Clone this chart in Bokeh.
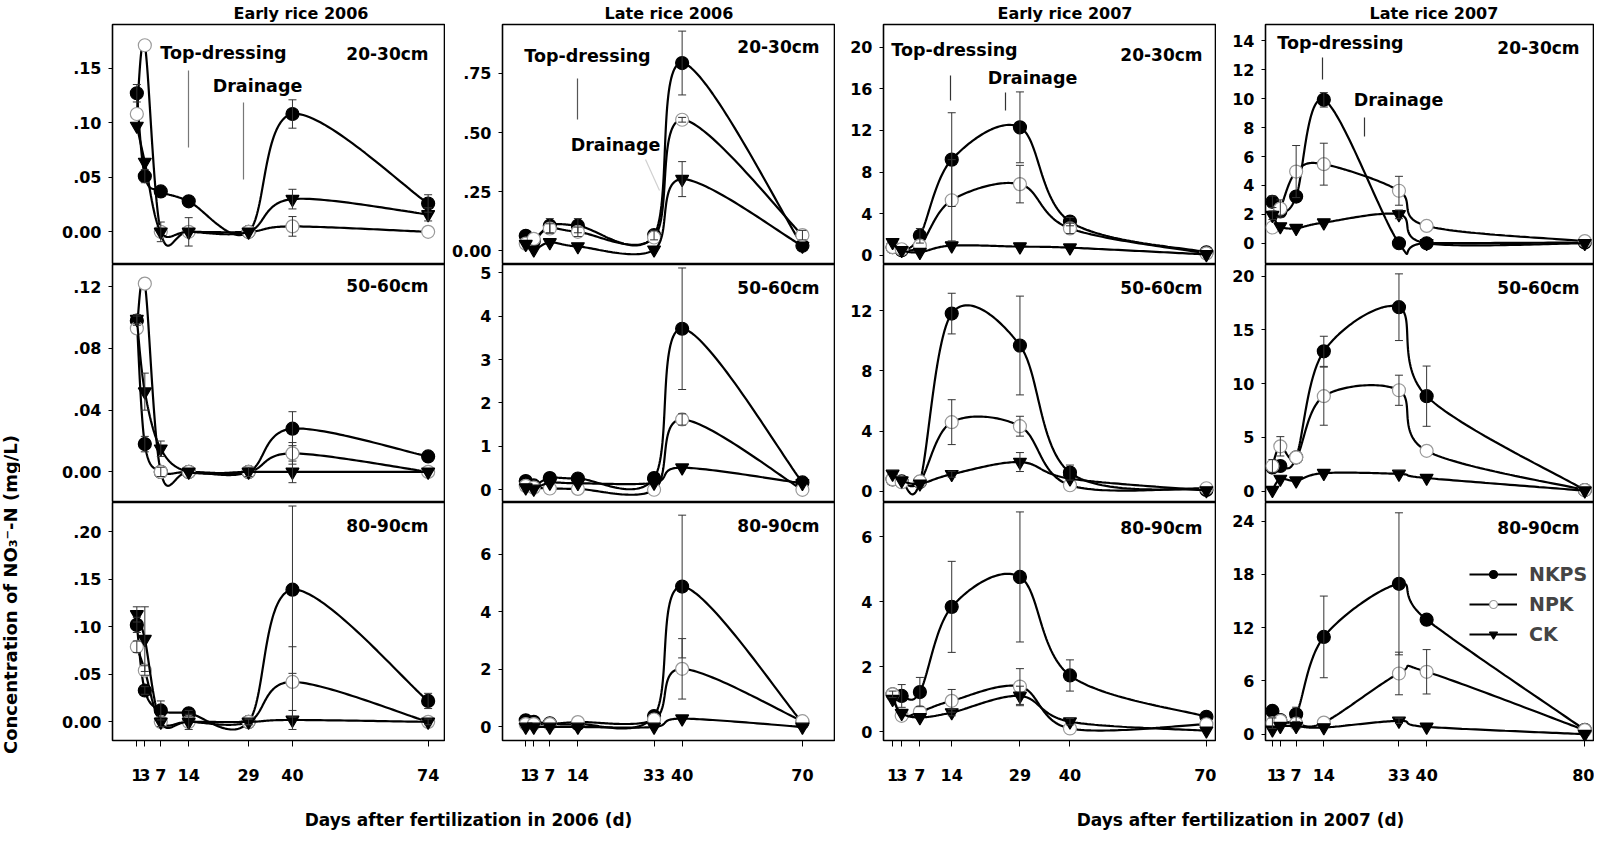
import numpy as np
from bokeh.plotting import figure
from bokeh.layouts import row, column
from bokeh.models import (Range1d, FixedTicker, Whisker, TeeHead, ColumnDataSource,
                          Label, Legend, LegendItem, AllLabels, CustomJSTickFormatter)
from bokeh.embed import file_html
from bokeh.resources import INLINE

# ---------------- data ----------------
titles = ["Early rice 2006", "Late rice 2006", "Early rice 2007", "Late rice 2007"]
depths = ["20-30cm", "50-60cm", "80-90cm"]
treatments = ["NKPS", "NPK", "CK"]

days_er06 = [1, 3, 7, 14, 29, 40, 74]
days_lr06 = [1, 3, 7, 14, 33, 40, 70]
days_er07 = [1, 3, 7, 14, 29, 40, 70]
days_lr07 = [1, 3, 7, 14, 33, 40, 80]

# Early rice 2006
er06_d20_nkps = [0.127, 0.051, 0.037, 0.028, 0.000, 0.108, 0.026]
er06_d20_nkps_se = [0.008, 0.006, 0, 0, 0, 0.013, 0.008]
er06_d20_npk = [0.108, 0.171, 0.000, 0.000, 0.000, 0.005, 0.000]
er06_d20_npk_se = [0, 0, 0, 0, 0, 0.009, 0]
er06_d20_ck = [0.097, 0.064, 0.000, 0.000, 0.000, 0.030, 0.016]
er06_d20_ck_se = [0, 0, 0.009, 0.013, 0, 0.009, 0.006]

er06_d50_nkps = [0.098, 0.018, 0.000, 0.000, 0.000, 0.028, 0.010]
er06_d50_nkps_se = [0.003, 0.005, 0, 0, 0, 0.011, 0]
er06_d50_npk = [0.093, 0.122, 0.000, 0.000, 0.000, 0.012, 0.000]
er06_d50_npk_se = [0, 0, 0.003, 0, 0, 0.007, 0]
er06_d50_ck = [0.099, 0.052, 0.015, 0.000, 0.000, 0.000, 0.000]
er06_d50_ck_se = [0.003, 0.012, 0.005, 0, 0.003, 0.007, 0]

er06_d80_nkps = [0.102, 0.033, 0.012, 0.009, 0.000, 0.139, 0.022]
er06_d80_nkps_se = [0.008, 0.004, 0.010, 0.003, 0, 0.088, 0.008]
er06_d80_npk = [0.079, 0.054, 0.000, 0.000, 0.000, 0.042, 0.000]
er06_d80_npk_se = [0.006, 0.005, 0, 0, 0.003, 0.037, 0]
er06_d80_ck = [0.113, 0.087, 0.000, 0.000, 0.000, 0.002, 0.000]
er06_d80_ck_se = [0.008, 0.034, 0.005, 0.008, 0.003, 0.010, 0.003]

# Late rice 2006
lr06_d20_nkps = [0.063, 0.040, 0.106, 0.106, 0.066, 0.794, 0.021]
lr06_d20_nkps_se = [0, 0, 0.03, 0.03, 0.02, 0.135, 0]
lr06_d20_npk = [0.030, 0.050, 0.094, 0.080, 0.056, 0.554, 0.066]
lr06_d20_npk_se = [0, 0, 0.02, 0.02, 0, 0.01, 0.02]
lr06_d20_ck = [0.028, 0.004, 0.035, 0.018, 0.004, 0.303, 0.020]
lr06_d20_ck_se = [0, 0, 0, 0, 0, 0.074, 0]

lr06_d50_nkps = [0.20, 0.10, 0.27, 0.26, 0.27, 3.71, 0.17]
lr06_d50_nkps_se = [0, 0, 0, 0, 0, 1.40, 0]
lr06_d50_npk = [0.09, 0.05, 0.03, 0.02, 0.00, 1.62, 0.00]
lr06_d50_npk_se = [0, 0, 0, 0, 0, 0.13, 0]
lr06_d50_ck = [0.05, 0.02, 0.16, 0.15, 0.16, 0.51, 0.15]
lr06_d50_ck_se = [0, 0, 0, 0, 0, 0, 0]

lr06_d80_nkps = [0.23, 0.18, 0.13, 0.10, 0.38, 4.88, 0.15]
lr06_d80_nkps_se = [0, 0, 0, 0, 0, 2.48, 0]
lr06_d80_npk = [0.10, 0.10, 0.10, 0.17, 0.26, 2.02, 0.20]
lr06_d80_npk_se = [0, 0, 0, 0, 0, 1.05, 0]
lr06_d80_ck = [0.00, 0.00, 0.00, 0.00, 0.00, 0.29, 0.00]
lr06_d80_ck_se = [0, 0, 0, 0, 0, 0, 0]

# Early rice 2007
er07_d20_nkps = [0.80, 0.50, 1.89, 9.20, 12.30, 3.25, 0.30]
er07_d20_nkps_se = [0, 0, 0.7, 4.5, 3.4, 0.4, 0]
er07_d20_npk = [0.80, 0.60, 0.95, 5.30, 6.85, 2.60, 0.20]
er07_d20_npk_se = [0, 0, 0, 3.9, 1.8, 0.5, 0]
er07_d20_ck = [1.27, 0.50, 0.32, 0.95, 0.85, 0.75, 0.10]
er07_d20_ck_se = [0, 0, 0, 0, 0, 0, 0]

er07_d50_nkps = [0.79, 0.65, 0.62, 11.80, 9.68, 1.24, 0.09]
er07_d50_nkps_se = [0, 0, 0, 1.35, 3.28, 0.5, 0]
er07_d50_npk = [0.80, 0.60, 0.65, 4.59, 4.32, 0.40, 0.20]
er07_d50_npk_se = [0, 0, 0, 1.49, 0.66, 0, 0]
er07_d50_ck = [1.15, 0.70, 0.50, 1.13, 1.94, 0.84, 0.05]
er07_d50_ck_se = [0, 0, 0, 0.2, 0.63, 0, 0]

er07_d80_nkps = [1.15, 1.10, 1.22, 3.84, 4.76, 1.73, 0.46]
er07_d80_nkps_se = [0.1, 0.35, 0.45, 1.40, 2.00, 0.48, 0]
er07_d80_npk = [1.15, 0.49, 0.61, 0.95, 1.39, 0.10, 0.23]
er07_d80_npk_se = [0, 0, 0, 0.35, 0.55, 0, 0]
er07_d80_ck = [1.00, 0.57, 0.44, 0.59, 1.10, 0.31, 0.03]
er07_d80_ck_se = [0, 0, 0, 0.1, 0.3, 0.1, 0]

# Late rice 2007
lr07_d20_nkps = [2.87, 2.20, 3.23, 9.92, 0.00, 0.00, 0.05]
lr07_d20_nkps_se = [0.4, 0, 0, 0.5, 0, 0, 0]
lr07_d20_npk = [1.09, 2.40, 4.96, 5.47, 3.63, 1.20, 0.15]
lr07_d20_npk_se = [0, 0.6, 1.8, 1.45, 1.0, 0, 0]
lr07_d20_ck = [1.94, 1.16, 1.04, 1.43, 2.00, 0.00, 0.00]
lr07_d20_ck_se = [0.3, 0, 0, 0, 0.3, 0, 0]

lr07_d50_nkps = [2.20, 2.34, 3.14, 13.0, 17.1, 8.83, 0.10]
lr07_d50_nkps_se = [0, 0, 0, 1.4, 3.1, 2.8, 0]
lr07_d50_npk = [2.34, 4.17, 3.14, 8.83, 9.38, 3.75, 0.10]
lr07_d50_npk_se = [0.6, 0.9, 0, 2.7, 1.4, 0, 0]
lr07_d50_ck = [0.10, 1.13, 0.98, 1.68, 1.60, 1.22, 0.05]
lr07_d50_ck_se = [0, 0, 0, 0, 0, 0, 0]

lr07_d80_nkps = [2.62, 1.60, 2.24, 10.96, 16.94, 12.90, 0.49]
lr07_d80_nkps_se = [0, 0, 0.8, 4.6, 8.0, 0, 0]
lr07_d80_npk = [1.23, 1.50, 1.20, 1.31, 6.84, 7.03, 0.45]
lr07_d80_npk_se = [0.6, 0, 0, 0, 2.4, 2.5, 0]
lr07_d80_ck = [0.50, 0.90, 0.90, 0.75, 1.50, 0.83, 0.00]
lr07_d80_ck_se = [0, 0, 0, 0, 0.3, 0, 0]

# axis ticks per panel [row][col]
yticks_r1 = [[0, 0.05, 0.10, 0.15], [0, 0.25, 0.50, 0.75], [0, 4, 8, 12, 16, 20], [0, 2, 4, 6, 8, 10, 12, 14]]
yticks_r2 = [[0, 0.04, 0.08, 0.12], [0, 1, 2, 3, 4, 5], [0, 4, 8, 12], [0, 5, 10, 15, 20]]
yticks_r3 = [[0, 0.05, 0.10, 0.15, 0.20], [0, 2, 4, 6], [0, 2, 4, 6], [0, 6, 12, 18, 24]]

# ---------------- layout / style ----------------
FONT = "DejaVu Sans"
COL_LEFT = [120, 510, 891, 1273]
COL_W = [332, 332, 332, 328]
ROW_TOP = [32, 272, 510]
ROW_H = [239, 237, 238]
BORDER_L = [92, 57, 48, 49]
TITLE_OFF = [121, 102, 114, 104]

XR = [(-5.1, 78.1), (-4.8, 78.0), (-1.0, 72.0), (-0.75, 82.2)]
YR = [[(-0.029, 0.190), (-0.054, 0.957), (-0.77, 22.17), (-1.40, 15.13)],
      [(-0.0192, 0.1344), (-0.27, 5.19), (-0.68, 15.06), (-0.96, 21.07)],
      [(-0.0196, 0.2307), (-0.47, 7.8), (-0.27, 7.05), (-0.71, 26.1)]]

# depth label anchor (right edge, vertical centre) in page pixels
DEPTH_POS = [[(436, 61), (827, 54), (1210, 62), (1587, 55)],
             [(436, 293), (827, 295), (1210, 295), (1587, 295)],
             [(436, 533), (827, 533), (1210, 535), (1587, 535)]]
# annotation texts and marker lines (page pixels), top row
ANN_TEXT = [[("Top-dressing", 231, 60), ("Drainage", 265, 93)],
            [("Top-dressing", 595, 63), ("Drainage", 623, 152)],
            [("Top-dressing", 962, 57), ("Drainage", 1040, 85)],
            [("Top-dressing", 1348, 50), ("Drainage", 1406, 107)]]
ANN_LINES = [[(196, 78, 196, 155, "#777777"), (251, 110, 251, 187, "#777777")],
             [(585, 86, 585, 127, "#555555"), (653, 167, 667, 198, "#d0d0d0")],
             [(958, 83, 958, 108, "#333333"), (1013, 100, 1013, 118, "#333333")],
             [(1330, 65, 1330, 87, "#333333"), (1372, 125, 1372, 144, "#333333")]]


def smooth_curve(x, y, n=40):
    """Catmull-Rom curve through the data points (smoothed connecting line)."""
    P = np.column_stack([np.asarray(x, float), np.asarray(y, float)])
    Q = np.vstack([P[0], P, P[-1]])
    t = np.linspace(0, 1, n)[:, None]
    h00 = 2 * t ** 3 - 3 * t ** 2 + 1
    h10 = t ** 3 - 2 * t ** 2 + t
    h01 = -2 * t ** 3 + 3 * t ** 2
    h11 = t ** 3 - t ** 2
    out = []
    for i in range(1, len(Q) - 2):
        p0, p1 = Q[i], Q[i + 1]
        m0 = (Q[i + 1] - Q[i - 1]) / 2
        m1 = (Q[i + 2] - Q[i]) / 2
        seg = h00 * p0 + h10 * m0 + h01 * p1 + h11 * m1
        out.append(seg if i == 1 else seg[1:])
    pts = np.vstack(out)
    return pts[:, 0], pts[:, 1]


def px2data(c, r, px, py):
    x0, x1 = XR[c]
    y0, y1 = YR[r][c]
    x = x0 + (px - COL_LEFT[c]) / COL_W[c] * (x1 - x0)
    y = y1 - (py - ROW_TOP[r]) / ROW_H[r] * (y1 - y0)
    return x, y


DAYS = [days_er06, days_lr06, days_er07, days_lr07]
SERIES = {
    (0, 0): [(er06_d20_nkps, er06_d20_nkps_se), (er06_d20_npk, er06_d20_npk_se), (er06_d20_ck, er06_d20_ck_se)],
    (1, 0): [(er06_d50_nkps, er06_d50_nkps_se), (er06_d50_npk, er06_d50_npk_se), (er06_d50_ck, er06_d50_ck_se)],
    (2, 0): [(er06_d80_nkps, er06_d80_nkps_se), (er06_d80_npk, er06_d80_npk_se), (er06_d80_ck, er06_d80_ck_se)],
    (0, 1): [(lr06_d20_nkps, lr06_d20_nkps_se), (lr06_d20_npk, lr06_d20_npk_se), (lr06_d20_ck, lr06_d20_ck_se)],
    (1, 1): [(lr06_d50_nkps, lr06_d50_nkps_se), (lr06_d50_npk, lr06_d50_npk_se), (lr06_d50_ck, lr06_d50_ck_se)],
    (2, 1): [(lr06_d80_nkps, lr06_d80_nkps_se), (lr06_d80_npk, lr06_d80_npk_se), (lr06_d80_ck, lr06_d80_ck_se)],
    (0, 2): [(er07_d20_nkps, er07_d20_nkps_se), (er07_d20_npk, er07_d20_npk_se), (er07_d20_ck, er07_d20_ck_se)],
    (1, 2): [(er07_d50_nkps, er07_d50_nkps_se), (er07_d50_npk, er07_d50_npk_se), (er07_d50_ck, er07_d50_ck_se)],
    (2, 2): [(er07_d80_nkps, er07_d80_nkps_se), (er07_d80_npk, er07_d80_npk_se), (er07_d80_ck, er07_d80_ck_se)],
    (0, 3): [(lr07_d20_nkps, lr07_d20_nkps_se), (lr07_d20_npk, lr07_d20_npk_se), (lr07_d20_ck, lr07_d20_ck_se)],
    (1, 3): [(lr07_d50_nkps, lr07_d50_nkps_se), (lr07_d50_npk, lr07_d50_npk_se), (lr07_d50_ck, lr07_d50_ck_se)],
    (2, 3): [(lr07_d80_nkps, lr07_d80_nkps_se), (lr07_d80_npk, lr07_d80_npk_se), (lr07_d80_ck, lr07_d80_ck_se)],
}
YTICKS = [yticks_r1, yticks_r2, yticks_r3]
STYLE = [dict(marker="circle", fill_color="black", line_color="black"),
         dict(marker="circle", fill_color="white", line_color="#9a9a9a"),
         dict(marker="inverted_triangle", fill_color="black", line_color="black")]

dec_fmt = CustomJSTickFormatter(code="""
    if (Math.abs(tick) < 1e-9) { return "0.00"; }
    return tick.toFixed(2).replace(/^0/, "");
""")


def make_panel(r, c):
    p = figure(frame_width=COL_W[c], frame_height=ROW_H[r],
               x_range=Range1d(*XR[c]), y_range=Range1d(*YR[r][c]),
               output_backend="svg", toolbar_location=None,
               x_axis_location="below" if r == 2 else None,
               min_border_left=BORDER_L[c], min_border_right=1,
               min_border_top=24 if r == 0 else 0,
               min_border_bottom=49 if r == 2 else 1,
               background_fill_color="white", border_fill_color="white",
               outline_line_color="black", outline_line_width=1.6)
    p.grid.visible = False
    if r == 0:
        p.title.text = titles[c]
        p.title.align = "left"
        p.title.offset = TITLE_OFF[c]
        p.title.text_font = FONT
        p.title.text_font_style = "bold"
        p.title.text_font_size = "16px"
        p.title.text_color = "black"
        p.title.standoff = 3
    for ax in p.axis:
        ax.axis_line_color = None
        ax.major_tick_in = 0
        ax.minor_tick_line_color = None
        ax.major_tick_line_color = "black"
        ax.major_tick_line_width = 1
        ax.major_label_text_font = FONT
        ax.major_label_text_font_style = "bold"
        ax.major_label_text_font_size = "16px"
        ax.major_label_text_color = "black"
        ax.major_label_policy = AllLabels()
    ya = p.yaxis[0]
    ya.ticker = FixedTicker(ticks=YTICKS[r][c])
    ya.major_tick_out = 4
    ya.major_label_standoff = 7
    if c == 0 or (r == 0 and c == 1):
        ya.formatter = dec_fmt
    if r == 2:
        xa = p.xaxis[0]
        xa.ticker = FixedTicker(ticks=DAYS[c])
        xa.major_tick_out = 6
        xa.major_label_standoff = 22

    renders = []
    for k, (vals, se) in enumerate(SERIES[(r, c)]):
        xs, ys = smooth_curve(DAYS[c], vals)
        ln = p.line(xs, ys, line_color="black", line_width=2.2)
        ex = [d for d, e in zip(DAYS[c], se) if e > 0]
        lo = [v - e for v, e in zip(vals, se) if e > 0]
        hi = [v + e for v, e in zip(vals, se) if e > 0]
        if ex:
            src = ColumnDataSource(dict(x=ex, lo=lo, hi=hi))
            w = Whisker(source=src, base="x", lower="lo", upper="hi", dimension="height",
                        line_color="#333333", line_width=1, level="glyph",
                        upper_head=TeeHead(size=8, line_color="#333333", line_width=1),
                        lower_head=TeeHead(size=8, line_color="#333333", line_width=1))
            p.add_layout(w)
        sc = p.scatter(DAYS[c], vals, size=13, line_width=1.2, **STYLE[k])
        renders.append((ln, sc))

    dx, dy = px2data(c, r, *DEPTH_POS[r][c])
    p.add_layout(Label(x=dx, y=dy, text=depths[r], text_align="right", text_baseline="middle",
                       text_font=FONT, text_font_style="bold", text_font_size="17px",
                       text_color="black"))
    if r == 0:
        for (x0p, y0p, x1p, y1p, col) in ANN_LINES[c]:
            ax0, ay0 = px2data(c, r, x0p, y0p)
            ax1, ay1 = px2data(c, r, x1p, y1p)
            p.segment(x0=[ax0], y0=[ay0], x1=[ax1], y1=[ay1], line_color=col, line_width=1.2)
        for (txt, tx, ty) in ANN_TEXT[c]:
            lx, ly = px2data(c, r, tx, ty)
            p.add_layout(Label(x=lx, y=ly, text=txt, text_align="center", text_baseline="middle",
                               text_font=FONT, text_font_style="bold", text_font_size="17.5px",
                               text_color="black"))
    if r == 2 and c == 3:
        items = [LegendItem(label=treatments[k], renderers=list(renders[k])) for k in range(3)]
        leg = Legend(items=items, location=(204, 95), orientation="vertical",
                     background_fill_alpha=0, border_line_color=None,
                     label_text_font=FONT, label_text_font_style="bold",
                     label_text_font_size="19px", glyph_width=48, glyph_height=20,
                     label_height=20, label_standoff=12, spacing=8, padding=0, margin=0)
        p.add_layout(leg)
    return p


cols = []
for c in range(4):
    cols.append(column(*[make_panel(r, c) for r in range(3)], spacing=0))

# left rotated y-axis label
ylab = figure(width=20, height=789, x_range=Range1d(0, 20), y_range=Range1d(0, 789),
              output_backend="svg", toolbar_location=None, x_axis_location=None,
              y_axis_location=None, min_border=0, outline_line_color=None)
ylab.grid.visible = False
ylab.add_layout(Label(x=10, y=195, text="Concentration of NO\u2083\u207b-N (mg/L)", angle=np.pi / 2,
                      text_align="center", text_baseline="middle", text_font=FONT,
                      text_font_style="bold", text_font_size="18px", text_color="black"))

# footer with the two x-axis titles
foot = figure(width=1594, height=42, x_range=Range1d(0, 1594), y_range=Range1d(0, 42),
              output_backend="svg", toolbar_location=None, x_axis_location=None,
              y_axis_location=None, min_border=0, outline_line_color=None)
foot.grid.visible = False
for txt, fx in [("Days after fertilization in 2006 (d)", 468), ("Days after fertilization in 2007 (d)", 1240)]:
    foot.add_layout(Label(x=fx, y=12, text=txt, text_align="center", text_baseline="middle",
                          text_font=FONT, text_font_style="bold", text_font_size="17px",
                          text_color="black"))

layout = column(row(ylab, *cols, spacing=0), foot, spacing=0)
open("out.html", "w").write(file_html(layout, INLINE))
